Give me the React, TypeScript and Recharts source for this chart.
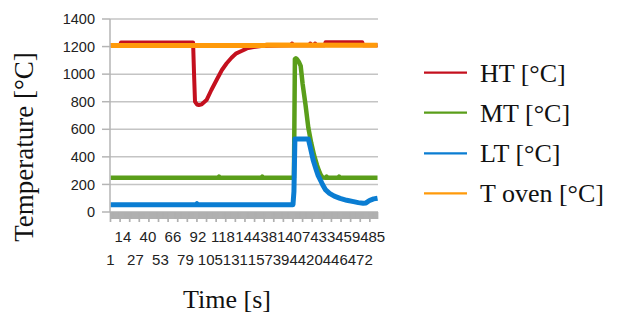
import React from 'react';
import { LineChart, Line, XAxis, YAxis, CartesianGrid, Label } from 'recharts';

// ---- data (sample index, value) ----
const xLabels = ['1', '14', '27', '40', '53', '66', '79', '92', '105', '118', '131', '144', '157', '381', '394', '407', '420', '433', '446', '459', '472', '485'];
const yTicks = [0, 200, 400, 600, 800, 1000, 1200, 1400];
const SAMPLE_COUNT = 279;

const htPoints: [number, number][] = [
  [0, 1212], [10, 1212], [11, 1230], [86, 1230], [87, 1000], [88, 800], [90, 780], [92, 776], [95, 781],
  [100, 812], [105, 885], [111, 965], [116, 1030], [121, 1079], [126, 1119], [131, 1151], [137, 1170],
  [142, 1187], [149, 1197], [159, 1205], [175, 1208], [188, 1210], [189, 1222], [190, 1210], [207, 1210],
  [208, 1222], [209, 1210], [212, 1210], [213, 1222], [214, 1210], [223, 1210], [224, 1232], [262, 1232],
  [263, 1210], [278, 1210],
];
const mtPoints: [number, number][] = [
  [0, 248], [112, 248], [113, 257], [114, 248], [157, 248], [158, 257], [159, 248], [190, 248], [191, 248],
  [192, 1110], [193, 1115], [194, 1110], [196, 1090], [198, 1060], [200, 930], [203, 780], [206, 610],
  [209, 500], [212, 410], [215, 340], [217, 300], [219, 268], [221, 250], [224, 248], [225, 257], [226, 248],
  [237, 248], [238, 257], [239, 248], [278, 248],
];
const ltPoints: [number, number][] = [
  [0, 53], [89, 53], [90, 60], [91, 53], [190, 53], [191, 150], [192, 530], [206, 530], [208, 470],
  [211, 377], [214, 310], [216, 268], [219, 225], [221, 196], [224, 160], [228, 135], [233, 115],
  [239, 99], [246, 85], [253, 75], [258, 68], [263, 63], [266, 66], [270, 85], [274, 95], [278, 100],
];
const ovenPoints: [number, number][] = [
  [0, 1207], [160, 1207], [163, 1211], [278, 1210],
];

const toRows = (pts: [number, number][]) => pts.map(([i, v]) => ({ i, v }));
const htData = toRows(htPoints);
const mtData = toRows(mtPoints);
const ltData = toRows(ltPoints);
const ovenData = toRows(ovenPoints);

const seriesInfo = [
  { name: 'HT [°C]', color: '#C4101E', width: 4, data: htData },
  { name: 'MT [°C]', color: '#5A9E1A', width: 4.5, data: mtData },
  { name: 'LT [°C]', color: '#0A7DD2', width: 5, data: ltData },
  { name: 'T oven [°C]', color: '#FF9A0A', width: 5, data: ovenData },
];

const idxTicks = Array.from({ length: SAMPLE_COUNT }, (_, i) => i);

const SANS = '"Liberation Sans", Arial, sans-serif';
const SERIF = '"Liberation Serif", "Times New Roman", serif';
const AXIS_GRAY = '#b5b5b5';

const XTick = (props: any) => {
  const { x, y, payload } = props;
  const i = payload.value as number;
  const len = i % 10 === 0 ? 10 : 7;
  const k = i / 13;
  const showLabel = Number.isInteger(k) && k < xLabels.length;
  return (
    <g>
      <line x1={x} x2={x} y1={y} y2={y + len} stroke="#b0b0b0" strokeWidth={1.7} />
      {showLabel && (
        <text x={x} y={y + (k % 2 === 0 ? 52.5 : 30)} textAnchor="middle" fontSize={15} fontFamily={SANS} fill="#222">
          {xLabels[k]}
        </text>
      )}
    </g>
  );
};

export default function App() {
  return (
    <div style={{ position: 'relative', width: 622, height: 320, margin: -8, background: '#fff' }}>
      <LineChart width={622} height={320} margin={{ top: 19, right: 244, left: 0, bottom: 0 }}>
        <CartesianGrid vertical={false} stroke="#c4c4c4" strokeWidth={1.5} />
        <XAxis
          dataKey="i"
          type="number"
          domain={[-0.5, SAMPLE_COUNT - 0.5]}
          ticks={idxTicks}
          interval={0}
          height={108}
          tickSize={0}
          tickMargin={0}
          tickLine={false}
          axisLine={{ stroke: AXIS_GRAY }}
          tick={<XTick />}
          allowDataOverflow
        >
          <Label
            content={() => (
              <text x={227} y={308} textAnchor="middle" fontSize={26} fontFamily={SERIF} fill="#111">
                Time [s]
              </text>
            )}
          />
        </XAxis>
        <YAxis
          domain={[0, 1400]}
          ticks={yTicks}
          width={110}
          tickSize={8}
          tickMargin={7}
          tick={{ fontSize: 14.5, fill: '#222', fontFamily: SANS }}
          tickLine={{ stroke: AXIS_GRAY, strokeWidth: 1.5 }}
          axisLine={{ stroke: AXIS_GRAY, strokeWidth: 1.5 }}
          allowDataOverflow
        >
          <Label
            content={() => (
              <text
                x={33}
                y={147}
                transform="rotate(-90, 33, 147)"
                textAnchor="middle"
                fontSize={27}
                fontFamily={SERIF}
                fill="#111"
              >
                Temperature [°C]
              </text>
            )}
          />
        </YAxis>
        <YAxis
          yAxisId="right"
          orientation="right"
          domain={[0, 1400]}
          width={0}
          tick={false}
          tickLine={false}
          axisLine={{ stroke: AXIS_GRAY, strokeWidth: 1.5 }}
        />
        {seriesInfo.map((s) => (
          <Line
            key={s.name}
            name={s.name}
            data={s.data}
            dataKey="v"
            type="linear"
            stroke={s.color}
            strokeWidth={s.width}
            dot={false}
            activeDot={false}
            isAnimationActive={false}
            strokeLinejoin="round"
          />
        ))}
      </LineChart>
      <svg width={622} height={320} style={{ position: 'absolute', left: 0, top: 0, pointerEvents: 'none' }}>
        {seriesInfo.map((s, n) => {
          const cy = [72.7, 112.7, 153.3, 193.3][n];
          return (
            <g key={s.name}>
              <line x1={424} x2={467} y1={cy} y2={cy} stroke={s.color} strokeWidth={2.2} />
              <text x={480} y={cy + 9} fontSize={26} fontFamily={SERIF} fill="#111">
                {s.name}
              </text>
            </g>
          );
        })}
      </svg>
    </div>
  );
}
